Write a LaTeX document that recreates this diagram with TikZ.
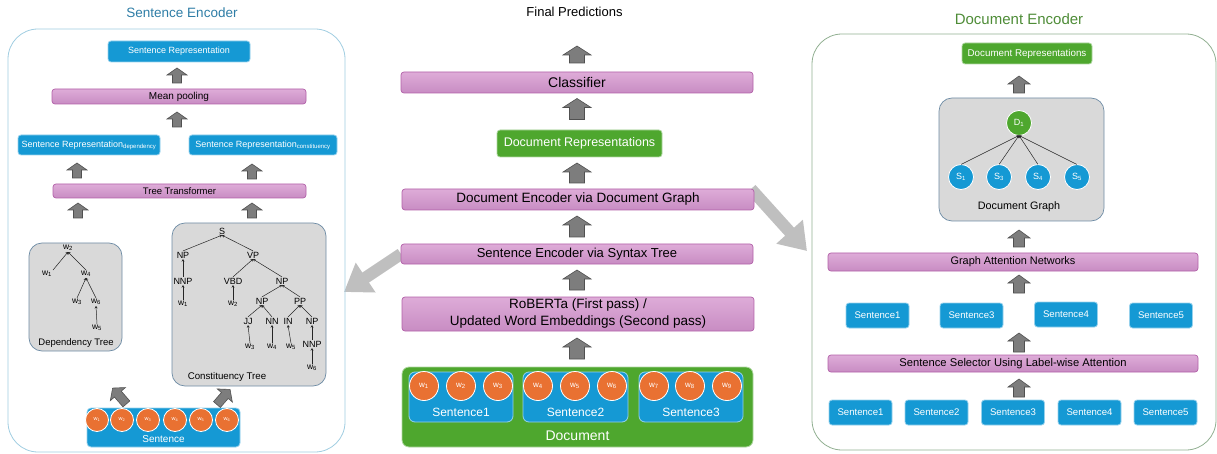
\documentclass[tikz,border=0pt]{standalone}
\usepackage{fontspec}
\setmainfont{Liberation Sans}
\usetikzlibrary{arrows.meta,backgrounds}
\newcommand\fsz[1]{\fontsize{#1}{#1}\selectfont}
\definecolor{purpT}{RGB}{222,172,216}
\definecolor{purpB}{RGB}{200,140,195}
\definecolor{purpE}{RGB}{178,96,168}
\definecolor{blueC}{RGB}{21,153,212}
\definecolor{greenC}{RGB}{78,167,46}
\definecolor{orangeC}{RGB}{233,113,50}
\definecolor{treeG}{RGB}{217,217,217}
\definecolor{treeE}{RGB}{110,140,165}
\definecolor{lpE}{RGB}{160,205,225}
\definecolor{rpE}{RGB}{145,175,145}
\definecolor{titleB}{RGB}{46,125,166}
\definecolor{titleG}{RGB}{78,140,55}
\definecolor{arrF}{RGB}{125,125,125}
\definecolor{arrE}{RGB}{80,80,80}
\definecolor{bigA}{RGB}{191,191,191}
% block arrow: cx, cy, angle, length, head half width, shaft half width, head length
\newcommand\BArr[7]{%
  \begin{scope}[shift={(#1,#2)},rotate=#3]
    \draw[blk] ({#4/2},0) -- ({#4/2-#7},#5) -- ({#4/2-#7},#6) -- ({-#4/2},#6)
      -- ({-#4/2},-#6) -- ({#4/2-#7},-#6) -- ({#4/2-#7},-#5) -- cycle;
  \end{scope}}
\begin{document}
\begin{tikzpicture}[x=1pt,y=-1pt,
  base/.style={inner sep=0pt,outer sep=0pt,align=center},
  purp/.style={base,draw=purpE,line width=0.7pt,top color=purpT,bottom color=purpB,rounded corners=3pt},
  bbox/.style={base,fill=blueC,draw=blueC!45!white,line width=0.8pt,rounded corners=3pt,text=white},
  gbox/.style={base,fill=greenC,draw=greenC!45!white,line width=0.8pt,rounded corners=3pt,text=white},
  wc/.style={circle,base,fill=orangeC,draw=white,line width=0.8pt,text=white},
  sc/.style={circle,base,fill=blueC,draw=white,line width=0.8pt,text=white,minimum size=25pt,font=\fsz{9}},
  tbox/.style={base,fill=treeG,draw=treeE,line width=0.7pt,rounded corners=13pt},
  panel/.style={base,line width=0.8pt,rounded corners=30pt},
  tl/.style={inner sep=0.8pt,font=\fsz{9}},
  wl/.style={inner sep=0.8pt,font=\fsz{8.5}},
  tedge/.style={draw=black!85,line width=0.5pt,-{Stealth[length=2.5pt,width=3pt]}},
  blk/.style={fill=arrF,draw=arrE,line width=0.6pt,line join=miter},
  bigarr/.style={draw=bigA,line width=12pt,-{Triangle[length=26pt,width=34pt]}}]
\useasboundingbox (0,0) rectangle (1217,454);

% ---------- titles ----------
\node[font=\fsz{13.5},text=titleB] (ltitle) at (182,12.5) {Sentence Encoder};
\node[font=\fsz{13}] (final) at (574.5,12) {Final Predictions};
\node[font=\fsz{15},text=titleG] (rtitle) at (1019,19) {Document Encoder};

% ---------- panels ----------
\node[panel,draw=lpE,minimum width=337pt,minimum height=423pt] (lpanel) at (176.5,240.5) {};
\node[panel,draw=rpE,minimum width=404pt,minimum height=416pt] (rpanel) at (1014,242) {};

% ---------- left: sentence encoder ----------
\node[bbox,minimum width=142pt,minimum height=21pt,font=\fsz{9}] (srep) at (179,51.5) {Sentence Representation};
\node[purp,minimum width=254pt,minimum height=15pt,font=\fsz{10}] (meanpool) at (179,96.5) {Mean pooling};
\node[bbox,minimum width=142pt,minimum height=20pt,font=\fsz{9}] (srepdep) at (89,145) {Sentence Representation\textsubscript{dependency}};
\node[bbox,minimum width=148pt,minimum height=20pt,font=\fsz{9}] (srepcon) at (263,145) {Sentence Representation\textsubscript{constituency}};
\node[purp,minimum width=253pt,minimum height=14pt,font=\fsz{9.5}] (treetr) at (179.5,191) {Tree Transformer};
\node[tbox,minimum width=93pt,minimum height=108pt] (depbox) at (75.5,297) {};
\node[tbox,minimum width=154pt,minimum height=163pt] (conbox) at (249,304.5) {};
\node[bbox,minimum width=153pt,minimum height=39pt,rounded corners=4pt] (sentbox) at (163.5,427.5) {};
\node[font=\fsz{10},text=white] (sentlabel) at (163.5,439) {Sentence};
\foreach \i/\x in {1/97,2/122,3/148,4/175,5/201,6/227}
  \node[wc,minimum size=23pt,font=\fsz{5.5}] (lw\i) at (\x,420) {w\textsubscript{\i}};

% dependency tree
\node[wl] (d2) at (68,248) {w\textsubscript{2}};
\node[wl] (d1) at (47,274) {w\textsubscript{1}};
\node[wl] (d4) at (86,274) {w\textsubscript{4}};
\node[wl] (d3) at (77,302) {w\textsubscript{3}};
\node[wl] (d6) at (96,302) {w\textsubscript{6}};
\node[wl] (d5) at (97,328) {w\textsubscript{5}};
\draw[tedge] (d1.north east) -- (d2.south);
\draw[tedge] (d4.north) -- (d2.south);
\draw[tedge] (d3.north) -- (d4.south);
\draw[tedge] (d6.north) -- (d4.south);
\draw[tedge] (d5.north) -- (d6.south);
\node[font=\fsz{9.5}] (deplabel) at (76,343) {Dependency Tree};

% constituency tree
\node[tl] (cS) at (222,231) {S};
\node[tl] (cNPa) at (183,255) {NP};
\node[tl] (cVP) at (253,255) {VP};
\node[tl] (cNNPa) at (183,281) {NNP};
\node[tl] (cVBD) at (233,281) {VBD};
\node[tl] (cNPb) at (282,281) {NP};
\node[wl] (cw1) at (183,304) {w\textsubscript{1}};
\node[wl] (cw2) at (233,304) {w\textsubscript{2}};
\node[tl] (cNPc) at (262,301) {NP};
\node[tl] (cPP) at (300,301) {PP};
\node[tl] (cJJ) at (248,321) {JJ};
\node[tl] (cNN) at (272,321) {NN};
\node[tl] (cIN) at (288,321) {IN};
\node[tl] (cNPd) at (312,321) {NP};
\node[wl] (cw3) at (250,347) {w\textsubscript{3}};
\node[wl] (cw4) at (272,347) {w\textsubscript{4}};
\node[wl] (cw5) at (291,347) {w\textsubscript{5}};
\node[tl] (cNNPd) at (312,344) {NNP};
\node[wl] (cw6) at (312,368) {w\textsubscript{6}};
\draw[tedge] (cNPa.north) -- (cS.south);
\draw[tedge] (cVP.north) -- (cS.south);
\draw[tedge] (cNNPa.north) -- (cNPa.south);
\draw[tedge] (cw1.north) -- (cNNPa.south);
\draw[tedge] (cVBD.north) -- (cVP.south);
\draw[tedge] (cNPb.north) -- (cVP.south);
\draw[tedge] (cw2.north) -- (cVBD.south);
\draw[tedge] (cNPc.north) -- (cNPb.south);
\draw[tedge] (cPP.north) -- (cNPb.south);
\draw[tedge] (cJJ.north) -- (cNPc.south);
\draw[tedge] (cNN.north) -- (cNPc.south);
\draw[tedge] (cIN.north) -- (cPP.south);
\draw[tedge] (cNPd.north) -- (cPP.south);
\draw[tedge] (cw3.north) -- (cJJ.south);
\draw[tedge] (cw4.north) -- (cNN.south);
\draw[tedge] (cw5.north) -- (cIN.south);
\draw[tedge] (cNNPd.north) -- (cNPd.south);
\draw[tedge] (cw6.north) -- (cNNPd.south);
\node[font=\fsz{9.7}] (conlabel) at (227,377) {Constituency Tree};

% left block arrows
\BArr{177}{75.5}{90}{15}{10}{4.5}{7}
\BArr{177}{119.5}{90}{15}{10}{4.5}{7}
\BArr{77}{170.5}{90}{15}{10}{4.5}{7}
\BArr{252}{171.5}{90}{15}{10}{4.5}{7}
\BArr{78}{210.5}{90}{15}{10}{4.5}{7}
\BArr{252}{210.5}{90}{15}{10}{4.5}{7}
\BArr{119.5}{396}{131}{21}{10}{4.5}{8}
\BArr{223.5}{397}{49}{20}{10}{4.5}{8}

% ---------- middle ----------
\node[purp,minimum width=352pt,minimum height=21pt,font=\fsz{14}] (classifier) at (577,82.5) {Classifier};
\node[gbox,minimum width=165pt,minimum height=27pt,font=\fsz{12.5}] (docrep) at (579.5,143.5) {Document Representations};
\node[purp,minimum width=352pt,minimum height=21pt,font=\fsz{13.5}] (docenc) at (578,199.5) {Document Encoder via Document Graph};
\node[purp,minimum width=352pt,minimum height=20pt,font=\fsz{13}] (sentenc) at (577,254) {Sentence Encoder via Syntax Tree};
\node[purp,minimum width=352pt,minimum height=34pt,font=\fontsize{13.5}{17}\selectfont] (roberta) at (578,314) {RoBERTa (First pass) /\\Updated Word Embeddings (Second pass)};
\node[gbox,minimum width=351pt,minimum height=80pt,rounded corners=7pt] (docbox) at (577.5,407) {};
\node[font=\fsz{14},text=white] (doclabel) at (577.5,436) {Document};
\node[bbox,minimum width=104pt,minimum height=50pt,rounded corners=6pt] (ms1) at (461,397) {};
\node[bbox,minimum width=105pt,minimum height=50pt,rounded corners=6pt] (ms2) at (575.5,397) {};
\node[bbox,minimum width=104pt,minimum height=50pt,rounded corners=6pt] (ms3) at (691,397) {};
\node[font=\fsz{12},text=white] (ms1l) at (461,412) {Sentence1};
\node[font=\fsz{12},text=white] (ms2l) at (575.5,412) {Sentence2};
\node[font=\fsz{12},text=white] (ms3l) at (691,412) {Sentence3};
\foreach \i/\x in {1/424,2/461,3/498,4/538,5/575,6/612,7/654,8/690,9/727}
  \node[wc,minimum size=29pt,font=\fsz{8}] (mw\i) at (\x,386) {w\textsubscript{\i}};

\BArr{577}{54.5}{90}{17}{14}{7.5}{9}
\BArr{577}{109}{90}{21}{14}{7.5}{9}
\BArr{577}{173}{90}{20}{14}{7.5}{9}
\BArr{577}{226.5}{90}{21}{14}{7.5}{9}
\BArr{577}{280}{90}{20}{14}{7.5}{9}
\BArr{577}{348.5}{90}{21}{14}{7.5}{9}

% ---------- right: document encoder ----------
\node[gbox,minimum width=130pt,minimum height=21pt,font=\fsz{9.8}] (rdrep) at (1027,53.5) {Document Representations};
\node[tbox,minimum width=165pt,minimum height=123pt] (graphbox) at (1021.5,159.5) {};
\node[circle,base,fill=greenC,draw=white,line width=0.8pt,text=white,minimum size=25pt,font=\fsz{9}] (D1) at (1019,123) {D\textsubscript{1}};
\node[sc] (S1) at (961,177) {S\textsubscript{1}};
\node[sc] (S3) at (999,177) {S\textsubscript{3}};
\node[sc] (S4) at (1038,177) {S\textsubscript{4}};
\node[sc] (S5) at (1077,177) {S\textsubscript{5}};
\foreach \s in {S1,S3,S4,S5}
  \draw[tedge] (\s.north) -- (D1.south);
\node[font=\fsz{10.8}] (graphlabel) at (1019,207) {Document Graph};
\node[purp,minimum width=370pt,minimum height=18pt,font=\fsz{10.9}] (gan) at (1013,262) {Graph Attention Networks};
\node[bbox,minimum width=63pt,minimum height=25pt,font=\fsz{9.6}] (r1s1) at (877.5,315.5) {Sentence1};
\node[bbox,minimum width=63pt,minimum height=25pt,font=\fsz{9.6}] (r1s3) at (971.5,315.5) {Sentence3};
\node[bbox,minimum width=63pt,minimum height=25pt,font=\fsz{9.6}] (r1s4) at (1066,314.5) {Sentence4};
\node[bbox,minimum width=63pt,minimum height=25pt,font=\fsz{9.6}] (r1s5) at (1161,315.5) {Sentence5};
\node[purp,minimum width=370pt,minimum height=17pt,font=\fsz{11.2}] (selector) at (1013,363.5) {Sentence Selector Using Label-wise Attention};
\node[bbox,minimum width=63pt,minimum height=25pt,font=\fsz{9.6}] (r2s1) at (860.5,412.5) {Sentence1};
\node[bbox,minimum width=63pt,minimum height=25pt,font=\fsz{9.6}] (r2s2) at (936.5,412.5) {Sentence2};
\node[bbox,minimum width=63pt,minimum height=25pt,font=\fsz{9.6}] (r2s3) at (1013,412.5) {Sentence3};
\node[bbox,minimum width=63pt,minimum height=25pt,font=\fsz{9.6}] (r2s4) at (1089.5,412.5) {Sentence4};
\node[bbox,minimum width=63pt,minimum height=25pt,font=\fsz{9.6}] (r2s5) at (1165.5,412.5) {Sentence5};

\BArr{1019}{84.5}{90}{17}{11}{5.5}{8}
\BArr{1019}{238.5}{90}{17}{11}{5.5}{8}
\BArr{1019}{284}{90}{18}{11}{5.5}{8}
\BArr{1019}{342.5}{90}{19}{11}{5.5}{8}
\BArr{1019}{388}{90}{18}{11}{5.5}{8}

% ---------- big grey arrows ----------
\coordinate (lpTip) at (344,292);
\coordinate (rpTip) at (807,251);
\begin{pgfonlayer}{background}
\draw[bigarr] (sentenc.west) -- (lpTip);
\draw[bigarr] ([xshift=-3pt]docenc.north east) -- (rpTip);
\end{pgfonlayer}
\end{tikzpicture}
\end{document}
